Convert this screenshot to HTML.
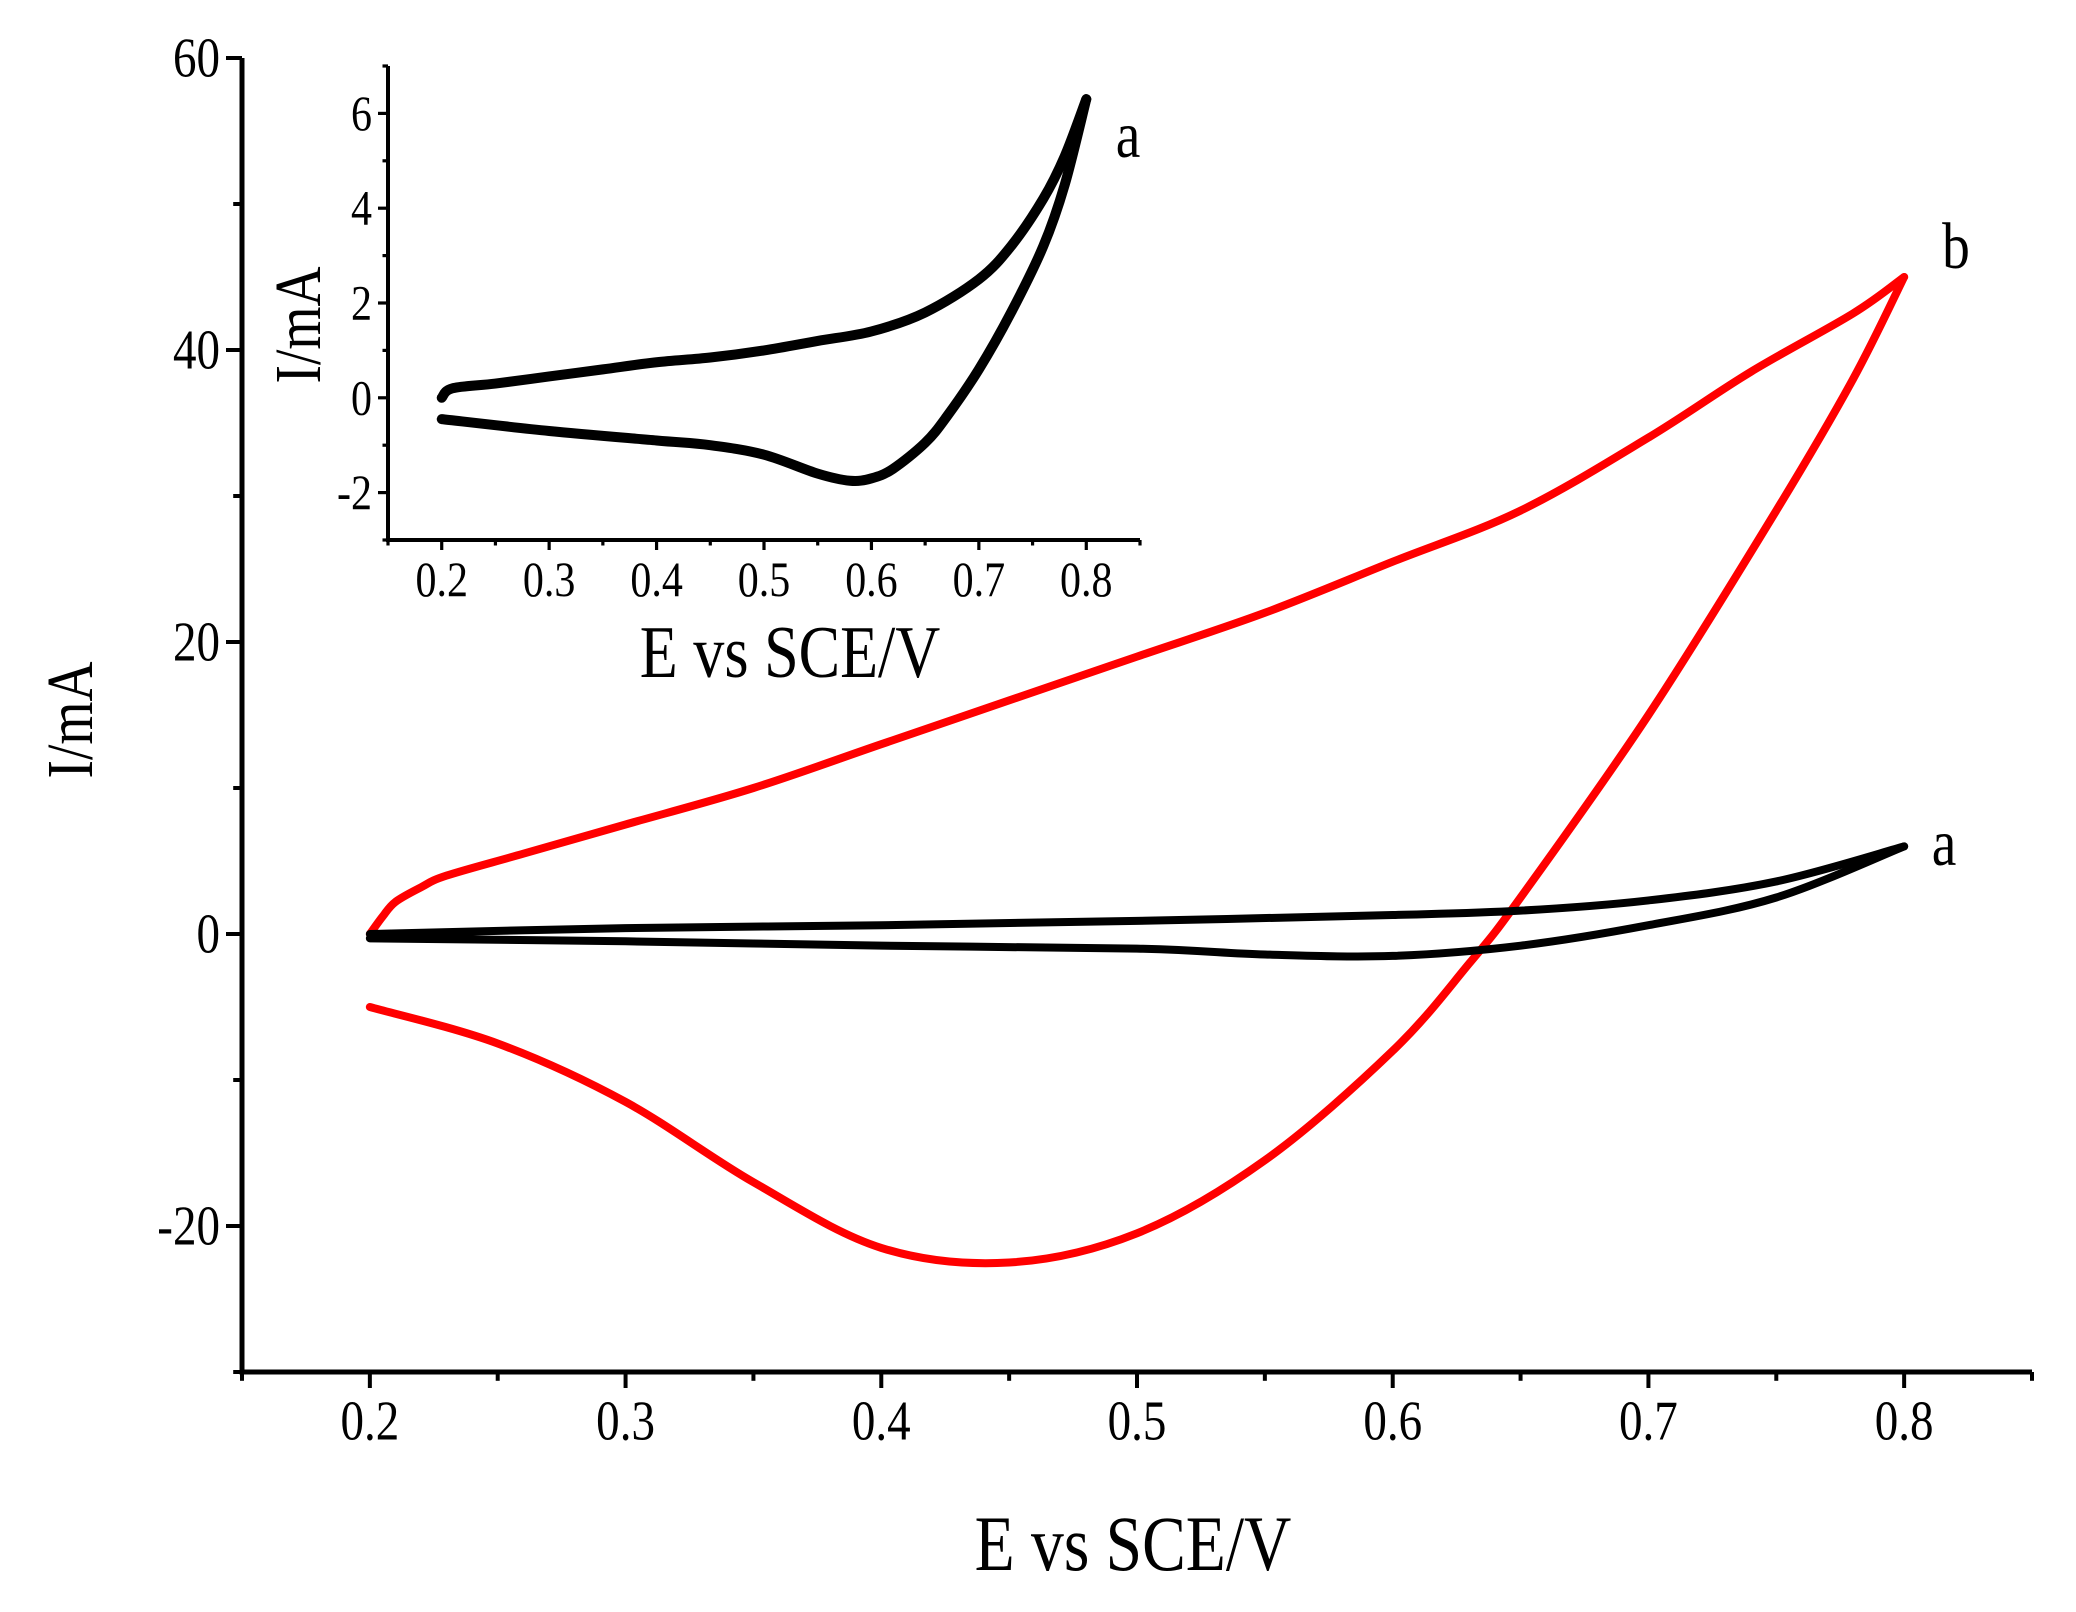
<!DOCTYPE html>
<html><head><meta charset="utf-8"><style>
html,body{margin:0;padding:0;background:#fff;}
svg{display:block;font-family:"Liberation Serif",serif;}
</style></head><body>
<svg id="chart" width="2076" height="1612" viewBox="0 0 2076 1612">
<g id="main"></g>
<g id="inset"></g>
</svg>
<script>
// Main plot data
const mainXTicks = [0.2,0.3,0.4,0.5,0.6,0.7,0.8];
const mainYTicks = [-20,0,20,40,60];
const bFwdX = [0.2,0.205,0.21,0.22,0.23,0.26,0.3,0.35,0.4,0.45,0.5,0.55,0.6,0.65,0.7,0.74,0.78,0.8];
const bFwdY = [0,1.2,2.2,3.2,4,5.5,7.5,10,13,16,19,22,25.5,29,34,38.5,42.5,45];
const bRevX = [0.8,0.78,0.75,0.7,0.65,0.63,0.6,0.55,0.5,0.45,0.4,0.35,0.3,0.25,0.2];
const bRevY = [45,38,29,15,2.5,-2,-8,-15.5,-20.5,-22.5,-21.5,-17,-11.5,-7.5,-5];
const aFwdX = [0.2,0.3,0.4,0.5,0.6,0.65,0.7,0.75,0.8];
const aFwdY = [0,0.4,0.6,0.9,1.3,1.6,2.3,3.6,6];
const aRevX = [0.8,0.75,0.7,0.65,0.6,0.55,0.5,0.4,0.3,0.2];
const aRevY = [6,2.5,0.6,-0.8,-1.5,-1.4,-1.0,-0.8,-0.5,-0.3];
// Inset data
const insXTicks = [0.2,0.3,0.4,0.5,0.6,0.7,0.8];
const insYTicks = [-2,0,2,4,6];
const iFwdX = [0.2,0.21,0.25,0.3,0.35,0.4,0.45,0.5,0.55,0.6,0.65,0.7,0.73,0.76,0.78,0.8];
const iFwdY = [0,0.2,0.3,0.45,0.6,0.75,0.85,1.0,1.2,1.4,1.8,2.5,3.2,4.2,5.1,6.3];
const iRevX = [0.8,0.78,0.76,0.73,0.7,0.67,0.65,0.62,0.6,0.58,0.55,0.5,0.45,0.4,0.3,0.2];
const iRevY = [6.3,4.5,3.2,1.8,0.6,-0.4,-0.95,-1.5,-1.7,-1.75,-1.6,-1.2,-1.0,-0.9,-0.7,-0.45];

const NS='http://www.w3.org/2000/svg';
function mk(parent,tag,attrs){const e=document.createElementNS(NS,tag);for(const k in attrs)e.setAttribute(k,attrs[k]);parent.appendChild(e);return e;}
function smooth(pts){let d='M'+pts[0][0]+','+pts[0][1];for(let i=0;i<pts.length-1;i++){const p0=pts[i-1]||pts[i],p1=pts[i],p2=pts[i+1],p3=pts[i+2]||p2;
 const c1=[p1[0]+(p2[0]-p0[0])/6,p1[1]+(p2[1]-p0[1])/6],c2=[p2[0]-(p3[0]-p1[0])/6,p2[1]-(p3[1]-p1[1])/6];
 d+=' C'+c1[0]+','+c1[1]+' '+c2[0]+','+c2[1]+' '+p2[0]+','+p2[1];}return d;}
function txt(g,x,y,s,fs,anchor,rot){
 const e=mk(g,'text',{x:0,y:0,'font-size':fs,'text-anchor':anchor,
  transform:'translate('+x+' '+y+')'+(rot?' rotate(-90)':'')+' scale(0.84 1)'});
 e.textContent=s;return e;
}
function axes(g,o){
 const sx=v=>o.x0+(v-o.xmin)/(o.xmax-o.xmin)*(o.x1-o.x0);
 const sy=v=>o.y0-(v-o.ymin)/(o.ymax-o.ymin)*(o.y0-o.y1);
 let e=mk(g,'line',{x1:o.x0,y1:o.y0,x2:o.x1,y2:o.y0,stroke:'#000','stroke-width':o.lw});
 
 e=mk(g,'line',{x1:o.x0,y1:o.y0+o.lw/2,x2:o.x0,y2:o.y1,stroke:'#000','stroke-width':o.lw});
 
 for(let v=o.xmin;v<=o.xmax+1e-9;v+=o.xminor){const major=o.xt.some(t=>Math.abs(t-v)<1e-6);
  e=mk(g,'line',{x1:sx(v),y1:o.y0,x2:sx(v),y2:o.y0+(major?o.tl:o.tl*0.55),stroke:'#000','stroke-width':o.lw*0.8});
  }
 o.xt.forEach(v=>{e=txt(g,sx(v),o.y0+o.tl+o.fs*0.92,v.toFixed(1),o.fs,'middle');
  });
 for(let v=o.ymin;v<=o.ymax+1e-9;v+=o.yminor){const major=o.yt.some(t=>Math.abs(t-v)<1e-6);
  e=mk(g,'line',{x1:o.x0,y1:sy(v),x2:o.x0-(major?o.tl:o.tl*0.55),y2:sy(v),stroke:'#000','stroke-width':o.lw*0.8});
  }
 o.yt.forEach(v=>{e=txt(g,o.x0-o.tl-6,sy(v)+o.fs*0.33,String(v),o.fs,'end');
  });
 return {sx,sy};
}
function curve(g,s,xs,ys,color,w,name){
 const pts=xs.map((x,i)=>[s.sx(x),s.sy(ys[i])]);
 const e=mk(g,'path',{d:smooth(pts),fill:'none',stroke:color,'stroke-width':w,'stroke-linejoin':'round','stroke-linecap':'round'});
 
}
function label(g,x,y,s,fs,name,rot){
 const e=txt(g,x,y,s,fs,'middle',rot);
 
}
const gm=document.getElementById('main');
const sm=axes(gm,{x0:242,x1:2032,y0:1372,y1:58,xmin:0.15,xmax:0.85,ymin:-30,ymax:60,xt:mainXTicks,yt:mainYTicks,xminor:0.05,yminor:10,lw:5,tl:16,fs:56});
curve(gm,sm,bFwdX,bFwdY,'#ff0000',8,'curve-b-forward');
curve(gm,sm,bRevX,bRevY,'#ff0000',8,'curve-b-reverse');
curve(gm,sm,aFwdX,aFwdY,'#000',8,'curve-a-forward');
curve(gm,sm,aRevX,aRevY,'#000',8,'curve-a-reverse');
label(gm,1133,1570,'E vs SCE/V',78,'x-axis-title');
label(gm,92,720,'I/mA',66,'y-axis-title',true);
label(gm,1956,268,'b',66,'series-label-b');
label(gm,1944,865,'a',66,'series-label-a');
const gi=document.getElementById('inset');
const si=axes(gi,{x0:388,x1:1140,y0:540,y1:66,xmin:0.15,xmax:0.85,ymin:-3,ymax:7,xt:insXTicks,yt:insYTicks,xminor:0.05,yminor:1,lw:4,tl:10,fs:50});
curve(gi,si,iFwdX,iFwdY,'#000',10,'inset-curve-forward');
curve(gi,si,iRevX,iRevY,'#000',10,'inset-curve-reverse');
label(gi,790,677,'E vs SCE/V',74,'inset-x-axis-title');
label(gi,320,325,'I/mA',66,'inset-y-axis-title',true);
label(gi,1128,157,'a',66,'inset-series-label-a');
</script>
</body></html>
